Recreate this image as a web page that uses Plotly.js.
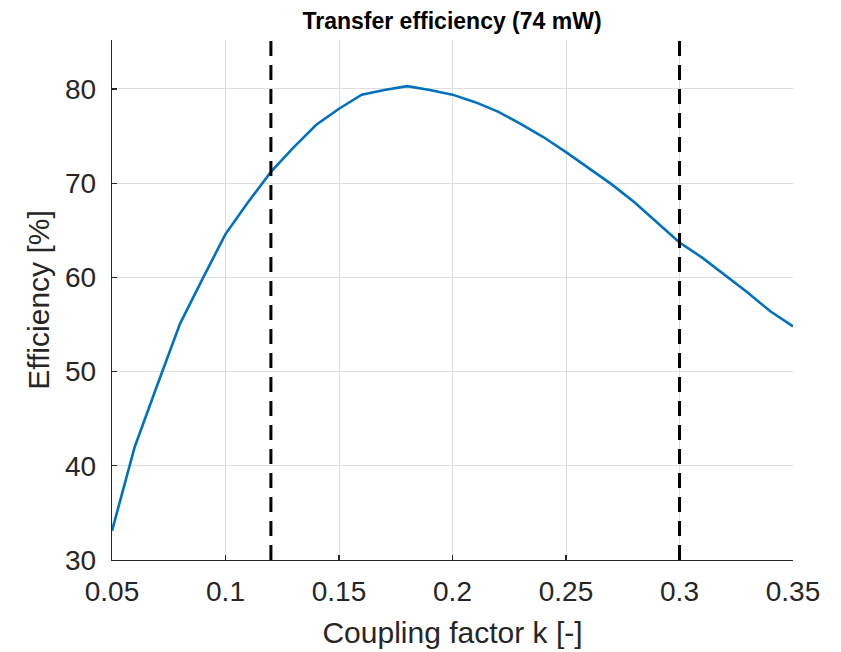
<!DOCTYPE html>
<html>
<head>
<meta charset="utf-8">
<script src="https://cdn.plot.ly/plotly-3.0.1.min.js"></script>
<style>
  html, body { margin: 0; padding: 0; background: #ffffff; }
  #chart { width: 841px; height: 652px; }
</style>
</head>
<body>
<div id="chart"></div>
<script>
// Coupling factor k [-]
const couplingK = [0.05, 0.06, 0.07, 0.08, 0.09, 0.10, 0.11, 0.12, 0.13, 0.14, 0.15,
                   0.16, 0.17, 0.18, 0.19, 0.20, 0.21, 0.22, 0.23, 0.24, 0.25,
                   0.26, 0.27, 0.28, 0.29, 0.30, 0.31, 0.32, 0.33, 0.34, 0.35];
// Efficiency [%]
const efficiency = [33.1, 42.0, 48.6, 55.1, 59.9, 64.6, 68.0, 71.2, 73.8, 76.2, 77.9,
                    79.4, 79.9, 80.3, 79.9, 79.4, 78.6, 77.6, 76.3, 74.9, 73.3,
                    71.6, 69.9, 68.0, 65.9, 63.7, 62.1, 60.3, 58.4, 56.4, 54.8];
// Vertical reference lines (operating range bounds)
const boundsK = [0.12, 0.30];

const xTickVals = [0.05, 0.10, 0.15, 0.20, 0.25, 0.30, 0.35];
const xTickText = ["0.05", "0.1", "0.15", "0.2", "0.25", "0.3", "0.35"];
const yTickVals = [30, 40, 50, 60, 70, 80];
const yTickText = ["30", "40", "50", "60", "70", "80"];

const titleText = "Transfer efficiency (74 mW)";
const xTitle = "Coupling factor k [-]";
const yTitle = "Efficiency [%]";

const FONT = "'Liberation Sans', Arial, Helvetica, sans-serif";
const AX = "#262626";

const traces = [{
  x: couplingK,
  y: efficiency,
  type: "scatter",
  mode: "lines",
  line: { color: "#0072BD", width: 2.6 },
  hoverinfo: "skip",
  showlegend: false
}];

const shapes = boundsK.map(k => ({
  type: "line",
  xref: "x", yref: "paper",
  x0: k, x1: k, y0: 0, y1: 1,
  line: { color: "#000000", width: 3, dash: "15px,9px" },
  layer: "above"
}));

const layout = {
  width: 841, height: 652,
  paper_bgcolor: "#ffffff",
  plot_bgcolor: "#ffffff",
  margin: { l: 112, r: 48, t: 40, b: 92 },
  font: { family: FONT, color: AX },
  title: {
    text: "<b>" + titleText + "</b>",
    font: { family: FONT, size: 23, color: "#000000" },
    x: 0.5375, xanchor: "center", xref: "container",
    y: 0.968, yanchor: "middle", yref: "container"
  },
  xaxis: {
    range: [0.05, 0.35],
    tickmode: "array", tickvals: xTickVals, ticktext: xTickText,
    ticks: "inside", ticklen: 5, tickwidth: 1.3, tickcolor: AX,
    tickfont: { family: FONT, size: 28, color: AX },
    showline: true, linecolor: AX, linewidth: 1.3, mirror: false,
    showgrid: true, gridcolor: "#dedede", gridwidth: 1,
    zeroline: false,
    ticklabelstandoff: 6,
    title: { text: xTitle, font: { family: FONT, size: 30, color: AX }, standoff: 16 }
  },
  yaxis: {
    range: [30, 85.2],
    tickmode: "array", tickvals: yTickVals, ticktext: yTickText,
    ticks: "inside", ticklen: 5, tickwidth: 1.3, tickcolor: AX,
    tickfont: { family: FONT, size: 28, color: AX },
    showline: true, linecolor: AX, linewidth: 1.3, mirror: false,
    showgrid: true, gridcolor: "#dedede", gridwidth: 1,
    zeroline: false,
    ticklabelstandoff: 9,
    title: { text: yTitle, font: { family: FONT, size: 30, color: AX }, standoff: 6 }
  },
  shapes: shapes,
  showlegend: false
};

Plotly.newPlot("chart", traces, layout, { displayModeBar: false, staticPlot: true });
</script>
</body>
</html>
